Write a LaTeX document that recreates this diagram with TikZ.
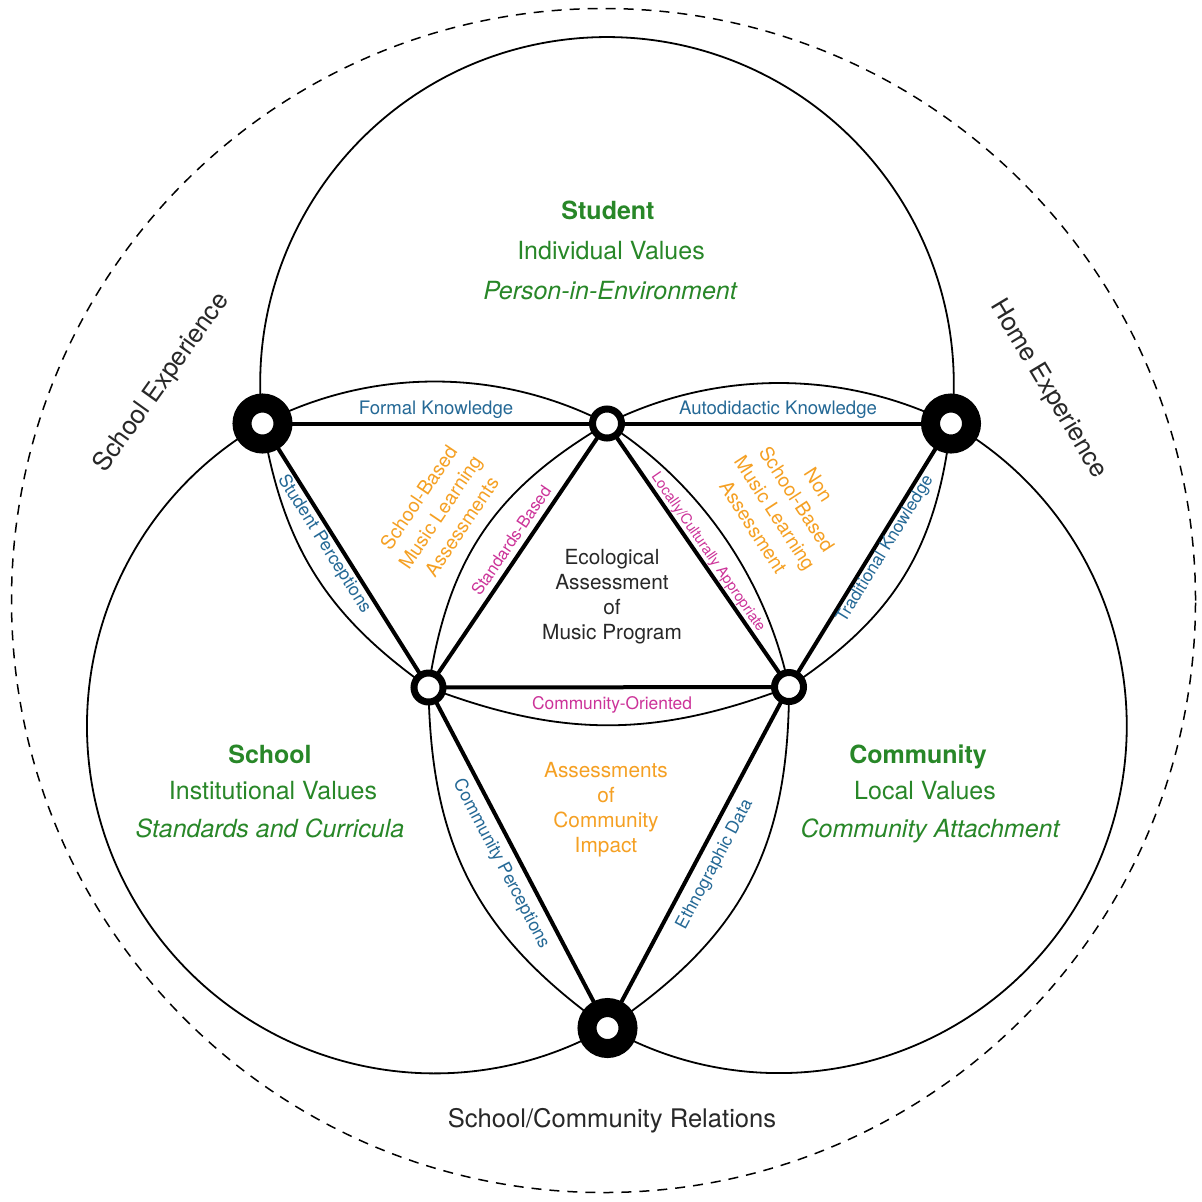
\documentclass[tikz,border=0pt]{standalone}
\usepackage{fontspec}
\setmainfont{TeX Gyre Heros}
\definecolor{vgreen}{RGB}{40,135,40}
\definecolor{vblue}{RGB}{37,105,150}
\definecolor{vorange}{RGB}{245,160,35}
\definecolor{vmag}{RGB}{204,51,153}
\definecolor{vdark}{RGB}{40,40,40}
\begin{document}
\begin{tikzpicture}[x=0.5pt,y=-0.5pt,
  ring/.style={line width=0.9pt, black},
  outerring/.style={line width=0.75pt, black, dash pattern=on 5pt off 4pt},
  tri/.style={line width=2pt, black},
  bigdot/.style={circle, draw=black, fill=white, line width=9.5pt, minimum size=20.5pt, inner sep=0pt},
  smalldot/.style={circle, draw=black, fill=white, line width=3.5pt, minimum size=14.5pt, inner sep=0pt},
  gtxt/.style={text=vgreen, inner sep=0pt, font=\fontsize{12.5}{15}\selectfont},
  gbold/.style={text=vgreen, inner sep=0pt, font=\fontsize{12.5}{15}\selectfont\bfseries},
  gital/.style={text=vgreen, inner sep=0pt, font=\fontsize{12.5}{15}\selectfont\itshape},
  darktxt/.style={text=vdark, inner sep=0pt, font=\fontsize{12.8}{15}\selectfont},
  centertxt/.style={text=vdark, inner sep=0pt, align=center, font=\fontsize{10.4}{12.5}\selectfont},
  orangetxt/.style={text=vorange, inner sep=0pt, align=center, font=\fontsize{10.4}{12.5}\selectfont},
  orangerot/.style={text=vorange, inner sep=0pt, align=center, font=\fontsize{9.7}{13}\selectfont},
  bluetxt/.style={text=vblue, inner sep=0pt, font=\fontsize{9.3}{11}\selectfont},
  bluerot/.style={text=vblue, inner sep=0pt, font=\fontsize{8.9}{11}\selectfont},
  magtxt/.style={text=vmag, inner sep=0pt, font=\fontsize{8.7}{11}\selectfont}
]
\useasboundingbox (0,0) rectangle (1202,1201);
\fill[white] (0,0) rectangle (1202,1201);

% outer dashed circle
\draw[outerring] (603.5,600.5) circle[radius=296pt];

% intersection points
\coordinate (A) at (262.5,423.5);
\coordinate (B) at (951,423.5);
\coordinate (C) at (607.5,1028);
\coordinate (a) at (607,423.5);
\coordinate (b) at (428.5,687.5);
\coordinate (c) at (789,687);

% outer arcs of the three circles
\draw[ring] (A) arc[start angle=186.57, end angle=-6.57, radius=173.4pt];   % Student
\draw[ring] (A) arc[start angle=119.7, end angle=299.74, radius=173.9pt];   % School
\draw[ring] (B) arc[start angle=60.37, end angle=-119.6, radius=173.75pt];  % Community

% lens arcs
\draw[ring] (A) .. controls (370.8,367.5) and (498.7,367.5) .. (a);   % Formal Knowledge
\draw[ring] (a) .. controls (715.3,369.5) and (842.7,369.5) .. (B);   % Autodidactic
\draw[ring] (A) .. controls (283.3,546.7) and (326.5,615.3) .. (b);   % Student Perceptions
\draw[ring] (a) .. controls (494.6,489.8) and (448.1,558.4) .. (b);   % Standards-Based
\draw[ring] (a) .. controls (700.4,483.5) and (765.8,578.4) .. (c);   % Locally/Culturally
\draw[ring] (b) .. controls (561.9,738.2) and (655.6,737.7) .. (c);   % Community-Oriented
\draw[ring] (c) .. controls (894.3,617.4) and (936.5,548.9) .. (B);   % Traditional
\draw[ring] (b) .. controls (431,846.9) and (477.6,935.6) .. (C);     % Community Perceptions
\draw[ring] (C) .. controls (741.7,937.6) and (789,848.8) .. (c);     % Ethnographic

% triangle lines
\draw[tri] (A) -- (a);
\draw[tri] (a) -- (B);
\draw[tri] (A) -- (b);
\draw[tri] (a) -- (b);
\draw[tri] (a) -- (c);
\draw[tri] (B) -- (c);
\draw[tri] (b) -- (c);
\draw[tri] (b) -- (C);
\draw[tri] (c) -- (C);

% dots
\node[bigdot] (Adot) at (A) {};
\node[bigdot] (Bdot) at (B) {};
\node[bigdot] (Cdot) at (C) {};
\node[smalldot] (adot) at (a) {};
\node[smalldot] (bdot) at (b) {};
\node[smalldot] (cdot) at (c) {};

% main labels
\node[gbold] (stu1) at (608,210) {Student};
\node[gtxt] (stu2) at (611,251) {Individual Values};
\node[gital] (stu3) at (610,291) {Person-in-Environment};

\node[gbold] (sch1) at (270,754) {School};
\node[gtxt] (sch2) at (273,791) {Institutional Values};
\node[gital] (sch3) at (270,828) {Standards and Curricula};

\node[gbold] (com1) at (918,757) {Community};
\node[gtxt] (com2) at (925,791) {Local Values};
\node[gital] (com3) at (930,831) {Community Attachment};

% outer labels
\node[darktxt, rotate=54.5] (schexp) at (162,383) {School Experience};
\node[darktxt, rotate=-59] (homexp) at (1048,389) {Home Experience};
\node[darktxt] (rel) at (612,1121) {School/Community Relations};

% centre
\node[centertxt] (eco) at (612,597) {Ecological\\Assessment\\of\\Music Program};

% orange
\node[orangetxt] (impact) at (606,810) {Assessments\\of\\Community\\Impact};
\node[orangerot, rotate=56] (sbm) at (440,512) {School-Based\\Music Learning\\Assessments};
\node[orangerot, rotate=-57] (nsbm) at (786,506) {Non\\School-Based\\Music Learning\\Assessment};

% blue
\node[bluetxt] (formal) at (436,410) {Formal Knowledge};
\node[bluetxt] (auto) at (778,410) {Autodidactic Knowledge};
\node[bluerot, rotate=-57.8] (stuper) at (324,544) {Student Perceptions};
\node[bluerot, rotate=58.4, font=\fontsize{8.6}{11}\selectfont] (trad) at (885.5,549) {Traditional Knowledge};
\node[bluerot, rotate=-62.3] (comper) at (501,864) {Community Perceptions};
\node[bluerot, rotate=62, font=\fontsize{8.7}{11}\selectfont] (ethno) at (715,864.5) {Ethnographic Data};

% magenta
\node[magtxt, rotate=55.9, font=\fontsize{8.3}{10}\selectfont] (stdb) at (511,540.5) {Standards-Based};
\node[magtxt, rotate=-55.4, font=\fontsize{7.3}{9}\selectfont] (loc) at (708,552.5) {Locally/Culturally Appropriate};
\node[magtxt] (comor) at (612,705) {Community-Oriented};
\end{tikzpicture}
\end{document}
